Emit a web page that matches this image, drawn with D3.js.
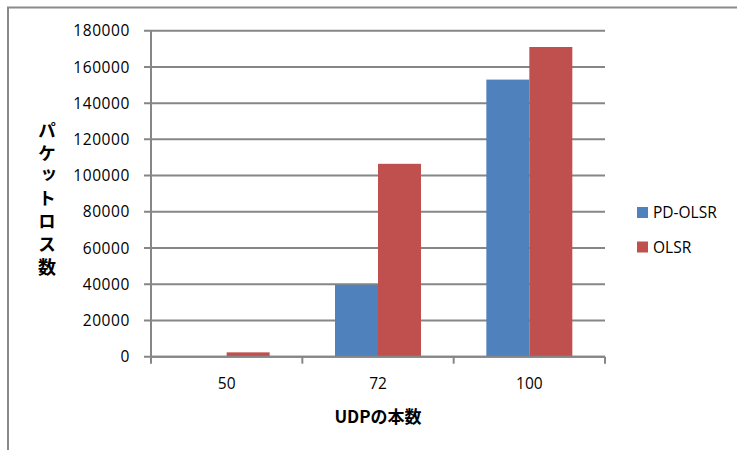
<!DOCTYPE html>
<html>
<head>
<meta charset="utf-8">
<script src="https://cdnjs.cloudflare.com/ajax/libs/d3/7.8.5/d3.min.js"></script>
<style>
  html, body { margin: 0; padding: 0; background: #fff; }
  svg { display: block; }
</style>
</head>
<body>
<script>
// Packet loss count by number of UDP flows
const categories = ["50", "72", "100"];
const seriesNames = ["PD-OLSR", "OLSR"];
const pdOlsrValues = [0, 39700, 153000];
const olsrValues = [2400, 106500, 171000];
const yTicks = [0, 20000, 40000, 60000, 80000, 100000, 120000, 140000, 160000, 180000];
const colors = ["#4F81BD", "#C0504D"];

const W = 737, H = 450;
const plot = { left: 151, right: 605, top: 30.7, bottom: 356.7 };
const axisColor = "#868686";
const font = "'Open Sans', 'Liberation Sans', sans-serif";
const jpFont = "'Noto Sans CJK JP', sans-serif";

const svg = d3.select("body").append("svg")
  .attr("width", W).attr("height", H);

svg.append("rect").attr("width", W).attr("height", H).attr("fill", "#fff");

// chart frame (extends past the right and bottom edges)
svg.append("rect")
  .attr("x", 8).attr("y", 7.5)
  .attr("width", W + 20).attr("height", H + 20)
  .attr("fill", "none").attr("stroke", "#8a8a8a").attr("stroke-width", 2);

const x0 = d3.scaleBand().domain(categories).range([plot.left, plot.right]).paddingInner(0).paddingOuter(0);
const x1 = d3.scaleBand().domain(seriesNames).range([0, x0.bandwidth()]).paddingInner(0).paddingOuter(0.76);
const y = d3.scaleLinear().domain([0, 180000]).range([plot.bottom, plot.top]);

// horizontal gridlines with tick stubs
svg.append("g").selectAll("line").data(yTicks).join("line")
  .attr("x1", plot.left - 7).attr("x2", plot.right)
  .attr("y1", d => y(d)).attr("y2", d => y(d))
  .attr("stroke", axisColor).attr("stroke-width", 2);

// bars
const groups = svg.append("g").selectAll("g").data(categories).join("g")
  .attr("transform", d => `translate(${x0(d)},0)`);
groups.selectAll("rect")
  .data((d, i) => [
    { s: seriesNames[0], v: pdOlsrValues[i], c: colors[0] },
    { s: seriesNames[1], v: olsrValues[i], c: colors[1] }
  ])
  .join("rect")
  .attr("x", d => x1(d.s))
  .attr("width", x1.bandwidth())
  .attr("y", d => y(d.v))
  .attr("height", d => y(0) - y(d.v))
  .attr("fill", d => d.c);

// y axis line
svg.append("line")
  .attr("x1", plot.left).attr("x2", plot.left)
  .attr("y1", plot.top).attr("y2", plot.bottom + 1)
  .attr("stroke", axisColor).attr("stroke-width", 2);

// x axis line and category ticks
svg.append("line")
  .attr("x1", plot.left).attr("x2", plot.right)
  .attr("y1", plot.bottom).attr("y2", plot.bottom)
  .attr("stroke", axisColor).attr("stroke-width", 2);
const tickXs = categories.map(c => x0(c)).concat([x0(categories[categories.length - 1]) + x0.bandwidth()]);
svg.append("g").selectAll("line").data(tickXs).join("line")
  .attr("x1", d => d).attr("x2", d => d)
  .attr("y1", plot.bottom).attr("y2", plot.bottom + 7)
  .attr("stroke", axisColor).attr("stroke-width", 2);

// y tick labels
svg.append("g").selectAll("text").data(yTicks).join("text")
  .attr("x", 130).attr("y", d => y(d))
  .attr("dy", "0.36em")
  .attr("text-anchor", "end")
  .attr("font-family", font).attr("font-size", 15.5)
  .attr("letter-spacing", 0.6)
  .attr("fill", "#000")
  .text(d => d);

// x tick labels
svg.append("g").selectAll("text").data(categories).join("text")
  .attr("x", d => x0(d) + x0.bandwidth() / 2).attr("y", 383)
  .attr("dy", "0.36em")
  .attr("text-anchor", "middle")
  .attr("font-family", font).attr("font-size", 15.5)
  .attr("fill", "#000")
  .text(d => d);

// x axis title
svg.append("text")
  .attr("x", 378).attr("y", 423)
  .attr("text-anchor", "middle")
  .attr("font-family", jpFont).attr("font-size", 17).attr("font-weight", "bold")
  .attr("fill", "#000")
  .text("UDPの本数");

// y axis title, set in vertical writing mode
svg.append("text")
  .attr("x", 47).attr("y", 121)
  .style("writing-mode", "vertical-rl")
  .style("text-orientation", "upright")
  .attr("letter-spacing", 4.8)
  .attr("font-family", jpFont).attr("font-size", 18).attr("font-weight", "bold")
  .attr("fill", "#000")
  .text("パケットロス数");

// legend
const legend = svg.append("g").selectAll("g").data(seriesNames).join("g")
  .attr("transform", (d, i) => `translate(637,${207 + i * 34.5})`);
legend.append("rect")
  .attr("width", 11).attr("height", 11)
  .attr("fill", (d, i) => colors[i]);
legend.append("text")
  .attr("x", 16).attr("y", 5.5).attr("dy", "0.36em")
  .attr("font-family", font).attr("font-size", 15.5)
  .attr("fill", "#000")
  .text(d => d);
</script>
</body>
</html>
